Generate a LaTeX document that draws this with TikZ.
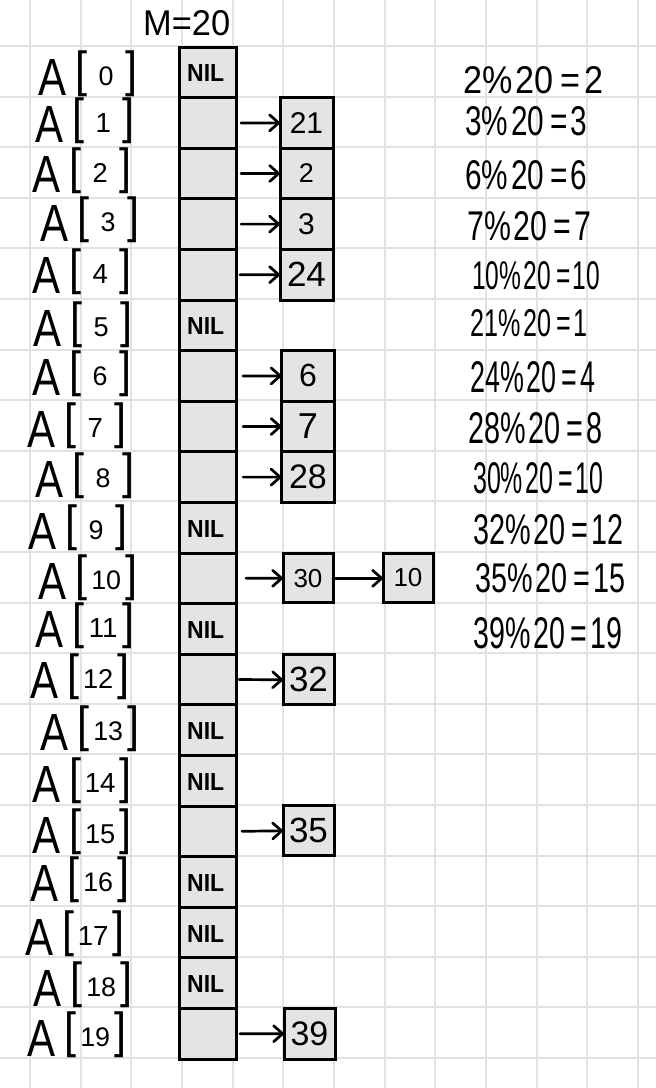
\documentclass[tikz,border=0pt]{standalone}
\usepackage{fontspec}
\setmainfont{Liberation Sans}
\usepackage{graphicx}
\usetikzlibrary{arrows.meta}
\definecolor{gridc}{RGB}{226,226,226}
\definecolor{cellc}{RGB}{228,228,228}
\newcommand\alab[1]{\resizebox{28pt}{36pt}{A}\kern9pt\raisebox{8.5pt}{\resizebox*{12pt}{46pt}{[}}\makebox[38pt]{\raisebox{10pt}{\resizebox*{!}{19pt}{#1}}}\raisebox{8.5pt}{\resizebox*{12pt}{46pt}{]}}}
\newcommand\rtxt[3]{\resizebox{#1pt}{#2pt}{#3}}
\begin{document}
\begin{tikzpicture}[x=1pt,y=-1pt,
  cell/.style={draw, line width=3pt, fill=cellc, minimum width=57pt, minimum height=50.6pt, inner sep=0pt, outer sep=0pt},
  lab/.style={anchor=base west, inner sep=0pt},
  txt/.style={anchor=west, inner sep=0pt},
  arr/.style={line width=2.7pt, line cap=round, -{Straight Barb[length=9pt,width=16pt,line cap=round,line join=round]}}]
\fill[white] (0,0) rectangle (656,1088);
\useasboundingbox (0,0) rectangle (656,1088);
% grid
\foreach \k in {0,...,12} \draw[gridc, line width=2pt] ({30+50.67*\k},0) -- ({30+50.67*\k},1088);
\foreach \k in {0,...,20} \draw[gridc, line width=2pt] (0,{46+50.6*\k}) -- (656,{46+50.6*\k});
% table cells
\foreach \i in {0,...,19} \node[cell] (c\i) at (207.5,{72.3+50.6*\i}) {};
% NIL entries
\foreach \i in {0,5,9,11,13,14,16,17,18} \node[txt] (n\i) at (187,{73.3+50.6*\i}) {\rtxt{37}{17}{\bfseries NIL}};
% labels
\foreach \i/\x/\b in {0/38/95,1/35/142,2/32/192,3/40/241,4/32/293,5/33/346,6/32/395,7/27/447,8/35/497,9/28/549,10/38/599,11/35/647,12/30/698,13/40/750,14/32/802,15/32/853,16/30/901,17/25/955,18/33/1006,19/27/1056}
  \node[lab] (a\i) at (\x,\b) {\alab{\i}};
% M=20
\node[txt] (m) at (143,23) {\rtxt{87}{25}{M=20}};
% chain boxes
\node[cell, minimum width=53pt] (b21) at (306.5,122.9) {\fontsize{30}{30}\selectfont 21};
\node[cell, minimum width=53pt] (b2) at (306.5,173.5) {\fontsize{27}{27}\selectfont 2};
\node[cell, minimum width=53pt] (b3) at (306.5,224.1) {\fontsize{30}{30}\selectfont 3};
\node[cell, minimum width=53pt] (b24) at (306.5,274.7) {\fontsize{35}{35}\selectfont 24};
\node[cell, minimum width=53pt] (b6) at (308,375.9) {\fontsize{32}{32}\selectfont 6};
\node[cell, minimum width=53pt] (b7) at (308,426.5) {\fontsize{36}{36}\selectfont 7};
\node[cell, minimum width=53pt] (b28) at (308,477.1) {\fontsize{34}{34}\selectfont 28};
\node[cell, minimum width=50pt, minimum height=49pt] (b30) at (308,578.3) {\fontsize{26}{26}\selectfont 30};
\node[cell, minimum width=50pt, minimum height=49pt] (b10) at (408,577.8) {\fontsize{26}{26}\selectfont 10};
\node[cell, minimum width=51pt, minimum height=50pt] (b32) at (308.5,679.8) {\fontsize{35}{35}\selectfont 32};
\node[cell, minimum width=51pt, minimum height=50pt] (b35) at (308.5,830.8) {\fontsize{35}{35}\selectfont 35};
\node[cell, minimum width=51pt, minimum height=51pt] (b39) at (309.5,1033.7) {\fontsize{34}{34}\selectfont 39};
% arrows
\draw[arr] ([xshift=5pt]c1.east) -- (b21.west);
\draw[arr] ([xshift=5pt]c2.east) -- (b2.west);
\draw[arr] ([xshift=5pt]c3.east) -- (b3.west);
\draw[arr] ([xshift=4pt]c4.east) -- (b24.west);
\draw[arr] ([xshift=7pt]c6.east) -- (b6.west);
\draw[arr] ([xshift=7pt]c7.east) -- (b7.west);
\draw[arr] ([xshift=7pt]c8.east) -- (b28.west);
\draw[arr] ([xshift=10pt]c10.east) -- (b30.west);
\draw[arr] (b30.east) -- (b30.east -| b10.west);
\draw[arr] ([xshift=3pt]c12.east) -- (b32.west);
\draw[arr] ([xshift=6pt]c15.east) -- (b35.west);
\draw[arr] ([xshift=4pt]c19.east) -- (b39.west);
% formulas
\node[txt] (f1) at (463,80) {\rtxt{140}{27}{2\%\kern1pt 20\kern2pt=\kern1pt 2}};
\node[txt] (f2) at (465,121) {\rtxt{122}{29}{3\%\kern1pt 20\kern2pt=\kern1pt 3}};
\node[txt] (f3) at (465,175) {\rtxt{122}{29}{6\%\kern1pt 20\kern2pt=\kern1pt 6}};
\node[txt] (f4) at (467,226) {\rtxt{124}{29}{7\%\kern1pt 20\kern2pt=\kern1pt 7}};
\node[txt] (f5) at (472,276) {\rtxt{128}{28}{10\%\kern1pt 20\kern2pt=\kern1pt 10}};
\node[txt] (f6) at (470,323) {\rtxt{117}{27}{21\%\kern1pt 20\kern2pt=\kern1pt 1}};
\node[txt] (f7) at (470,377) {\rtxt{125}{31}{24\%\kern1pt 20\kern2pt=\kern1pt 4}};
\node[txt] (f8) at (468,428) {\rtxt{134}{31}{28\%\kern1pt 20\kern2pt=\kern1pt 8}};
\node[txt] (f9) at (473,478) {\rtxt{130}{31}{30\%\kern1pt 20\kern2pt=\kern1pt 10}};
\node[txt] (f10) at (473,530) {\rtxt{150}{30}{32\%\kern1pt 20\kern2pt=\kern1pt 12}};
\node[txt] (f11) at (475,578) {\rtxt{150}{29}{35\%\kern1pt 20\kern2pt=\kern1pt 15}};
\node[txt] (f12) at (473,633) {\rtxt{149}{31}{39\%\kern1pt 20\kern2pt=\kern1pt 19}};
\end{tikzpicture}
\end{document}
